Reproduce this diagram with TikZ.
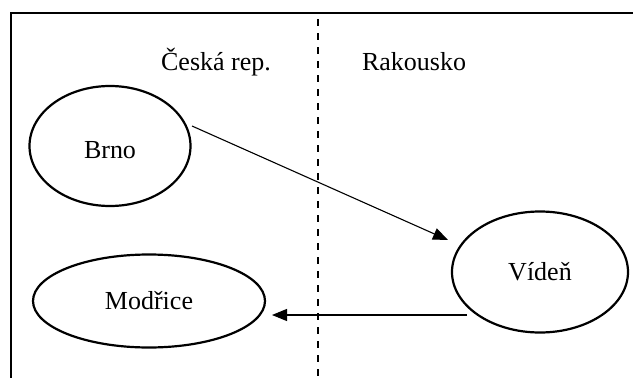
\documentclass[tikz,border=0pt]{standalone}
\usepackage{fontspec}
\setmainfont{Liberation Serif}
\usetikzlibrary{arrows.meta,shapes.geometric}
\begin{document}
\begin{tikzpicture}[x=1pt,y=-1pt,
  city/.style={draw=black,line width=2.2pt,ellipse,inner sep=0pt},
  label/.style={inner sep=0pt,font=\fontsize{26}{30}\selectfont},
  link/.style={line width=1.1pt,-{Triangle[length=15pt,width=12pt]}},
  frameline/.style={line width=2.2pt},
  border/.style={line width=1.8pt,dash pattern=on 7pt off 7pt}]
\useasboundingbox (0,0) rectangle (633,378);
% frame: top and left edges only
\draw[frameline] (11,378) -- (11,13) -- (633,13);
% border between the two countries
\draw[border] (318,19) -- (318,378);
% country labels
\node[label] (cz) at (216,62) {Česká rep.};
\node[label] (at) at (414,62) {Rakousko};
% cities
\node[city,minimum width=161pt,minimum height=120pt] (brno) at (110,146) {};
\node[label] at ([yshift=-4pt]brno.center) {Brno};
\node[city,minimum width=176pt,minimum height=121pt] (viden) at (540,272) {};
\node[label] at (viden.center) {Vídeň};
\node[city,minimum width=232pt,minimum height=93pt] (modrice) at (149,301) {};
\node[label] at (modrice.center) {Modřice};
% routes
\coordinate (r1s) at (192,126);
\coordinate (r1e) at (448,240);
\coordinate (r2s) at (467,315);
\coordinate (r2e) at (272,315);
\draw[link] (r1s) -- (r1e);
\draw[link] (r2s) -- (r2e);
\end{tikzpicture}
\end{document}
